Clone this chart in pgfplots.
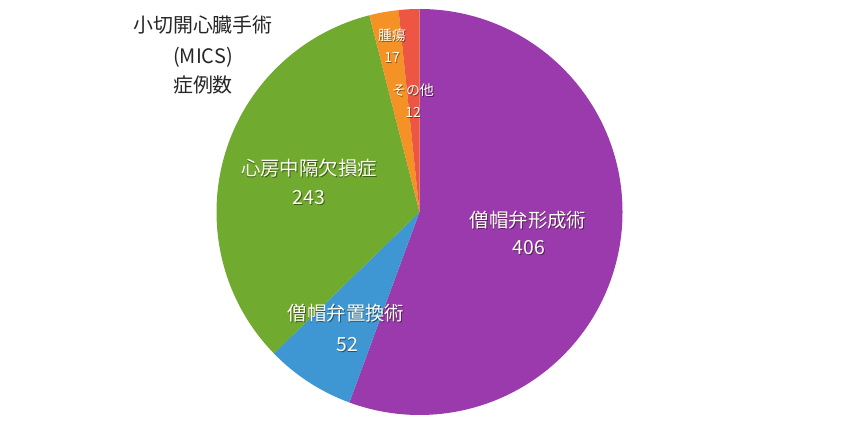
\documentclass[border=0pt]{standalone}
\usepackage{pgfplots}
\usepackage{pgfplotstable}
\pgfplotsset{compat=1.18}
\usepackage{fontspec}
\setmainfont{Noto Sans CJK JP}
\definecolor{c0}{RGB}{154,58,172}
\definecolor{c1}{RGB}{62,150,210}
\definecolor{c2}{RGB}{112,170,46}
\definecolor{c3}{RGB}{244,146,38}
\definecolor{c4}{RGB}{236,86,66}
\pgfplotstableread{
value
406
52
243
17
12
}\piedata
\newcommand{\lab}[3]{%
  \node[font=\fontsize{#2}{#2}\selectfont, text=black, opacity=0.45] at ([shift={(0.8bp,-1bp)}]axis cs:#1) {#3};
  \node[font=\fontsize{#2}{#2}\selectfont, text=white!95!yellow] at (axis cs:#1) {#3};
}
\begin{document}
\begin{tikzpicture}
\begin{axis}[
  width=842bp, height=427bp, scale only axis,
  xmin=0, xmax=842, ymin=0, ymax=427,
  hide axis, clip=false,
]
\path[use as bounding box] (axis cs:0,0) rectangle (axis cs:842,427);
\def\cx{419.5}\def\cy{215}\def\R{203bp}
\def\total{730}
\def\cum{0}
\pgfplotsforeachungrouped \i in {0,...,4}{%
  \pgfplotstablegetelem{\i}{value}\of\piedata
  \let\v\pgfplotsretval
  \pgfmathsetmacro\sa{90-(\cum/\total)*360}%
  \pgfmathsetmacro\newcum{\cum+\v}%
  \pgfmathsetmacro\ea{90-(\newcum/\total)*360}%
  \edef\temp{\noexpand\fill[c\i] (axis cs:\cx,\cy) -- ++(\sa:\R) arc[start angle=\sa, end angle=\ea, radius=\R] -- cycle;}%
  \temp
  \global\let\cum\newcum
}
% title
\node[font=\fontsize{20}{22}\selectfont, text=black!85] at (axis cs:203,402) {小切開心臓手術};
\node[font=\fontsize{20}{22}\selectfont, text=black!85] at (axis cs:203,370) {(MICS)};
\node[font=\fontsize{20}{22}\selectfont, text=black!85] at (axis cs:203,342) {症例数};
\lab{528,207}{19.5}{僧帽弁形成術}
\lab{529,179}{19.5}{406}
\lab{346,114}{19.5}{僧帽弁置換術}
\lab{347,82}{19.5}{52}
\lab{309,259}{19.5}{心房中隔欠損症}
\lab{309,229}{19.5}{243}
\lab{392,392}{14}{腫瘍}
\lab{392,369}{14}{17}
\lab{413,337}{14}{その他}
\lab{413,315}{14}{12}
\end{axis}
\end{tikzpicture}
\end{document}
